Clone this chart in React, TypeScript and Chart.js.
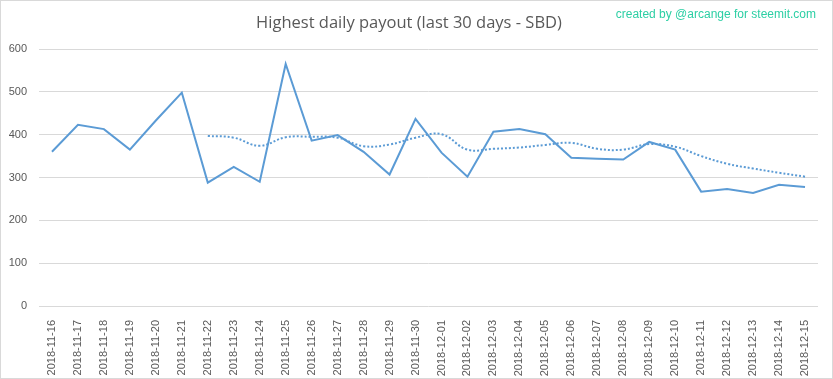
import React, { useEffect, useRef } from "react";
import { Chart, registerables } from "chart.js";

Chart.register(...registerables);

const categories = [
  "2018-11-16", "2018-11-17", "2018-11-18", "2018-11-19", "2018-11-20", "2018-11-21",
  "2018-11-22", "2018-11-23", "2018-11-24", "2018-11-25", "2018-11-26", "2018-11-27",
  "2018-11-28", "2018-11-29", "2018-11-30", "2018-12-01", "2018-12-02", "2018-12-03",
  "2018-12-04", "2018-12-05", "2018-12-06", "2018-12-07", "2018-12-08", "2018-12-09",
  "2018-12-10", "2018-12-11", "2018-12-12", "2018-12-13", "2018-12-14", "2018-12-15",
];

const dailyPayout = [
  360, 423, 413, 365, 433, 498, 288, 325, 290, 565, 386, 399, 360, 307, 437,
  358, 302, 407, 413, 401, 346, 344, 342, 383, 365, 267, 273, 264, 283, 278,
];

const movingAverage = [
  null, null, null, null, null, null, 397, 393, 374, 394, 395, 393, 373, 377, 393,
  401, 365, 367, 370, 376, 381, 367, 365, 378, 372, 350, 332, 321, 311, 302,
];

const yTicks = [0, 100, 200, 300, 400, 500, 600];

const titleText = "Highest daily payout (last 30 days - SBD)";
const creditText = "created by @arcange for steemit.com";

export default function App() {
  const ref = useRef<HTMLCanvasElement | null>(null);

  useEffect(() => {
    document.body.style.margin = "0";
    const canvas = ref.current;
    if (!canvas) return;

    const frame = {
      id: "frame",
      beforeDraw(chart: any) {
        const { ctx, width, height } = chart;
        ctx.save();
        ctx.fillStyle = "#ffffff";
        ctx.fillRect(0, 0, width, height);
        ctx.strokeStyle = "#d9d9d9";
        ctx.lineWidth = 1;
        ctx.strokeRect(0.5, 0.5, width - 1, height - 1);
        ctx.restore();
      },
      afterDraw(chart: any) {
        const { ctx } = chart;
        ctx.save();
        ctx.font = "12px 'Liberation Sans', sans-serif";
        ctx.fillStyle = "#2ccfa4";
        ctx.textAlign = "right";
        ctx.textBaseline = "middle";
        ctx.fillText(creditText, 816, 15);
        ctx.restore();
      },
    };

    const chart = new Chart(canvas, {
      type: "line",
      data: {
        labels: categories,
        datasets: [
          {
            label: "Highest daily payout",
            data: dailyPayout,
            borderColor: "#5b9bd5",
            borderWidth: 2,
            pointRadius: 0,
            tension: 0,
            fill: false,
          },
          {
            label: "Moving average",
            data: movingAverage,
            borderColor: "#5b9bd5",
            borderWidth: 2,
            borderDash: [2, 2],
            pointRadius: 0,
            tension: 0.4,
            fill: false,
            spanGaps: false,
          },
        ],
      },
      options: {
        animation: false,
        responsive: false,
        maintainAspectRatio: false,
        layout: { padding: { left: 0, right: 15, top: 0, bottom: 0 } },
        plugins: {
          legend: { display: false },
          tooltip: { enabled: false },
          title: {
            display: true,
            text: titleText,
            color: "#595959",
            font: { family: "'Open Sans', sans-serif", size: 16.5, weight: "normal" },
            padding: { top: 13, bottom: 16.2 },
          },
        },
        scales: {
          x: {
            offset: true,
            grid: { display: false },
            border: { display: false },
            ticks: {
              color: "#595959",
              font: { family: "'Liberation Sans', sans-serif", size: 11 },
              maxRotation: 90,
              minRotation: 90,
              autoSkip: false,
              padding: 6,
            },
            afterFit(axis: any) {
              axis.height = 73;
            },
          },
          y: {
            min: 0,
            max: 600,
            grid: { color: "#d9d9d9", drawTicks: false, lineWidth: 1 },
            border: { display: false },
            afterBuildTicks(axis: any) {
              axis.ticks = yTicks.map((v) => ({ value: v }));
            },
            ticks: {
              color: "#595959",
              font: { family: "'Liberation Sans', sans-serif", size: 11 },
              padding: 12,
            },
            afterFit(axis: any) {
              axis.width = 39;
            },
          },
        },
      },
      plugins: [frame],
    });

    return () => chart.destroy();
  }, []);

  return <canvas ref={ref} width={833} height={379} style={{ display: "block" }} />;
}
